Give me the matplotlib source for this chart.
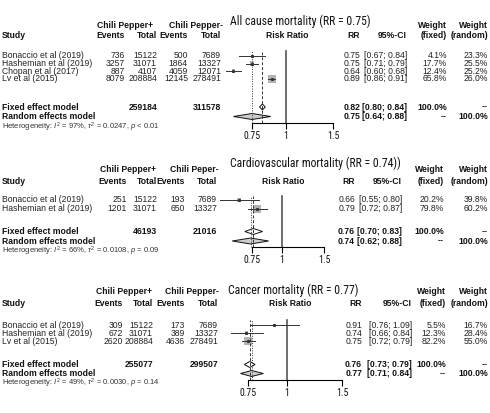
import numpy as np
import matplotlib
matplotlib.use("Agg")
import matplotlib.pyplot as plt
from matplotlib.patches import Polygon, Rectangle
from matplotlib import font_manager

# --- Adatok: összes halálozás ---
studies1 = ["Bonaccio et al (2019)", "Hashemian et al (2019)", "Chopan et al (2017)", "Lv et al (2015)"]
ev_pos1 = [736, 3257, 887, 8079]
tot_pos1 = [15122, 31071, 4107, 208884]
ev_neg1 = [500, 1864, 4059, 12145]
tot_neg1 = [7689, 13327, 12071, 278491]
rr1 = [0.75, 0.75, 0.64, 0.89]
lo1 = [0.67, 0.71, 0.60, 0.86]
hi1 = [0.84, 0.79, 0.68, 0.91]
wf1 = [4.1, 17.7, 12.4, 65.8]
wr1 = [23.3, 25.5, 25.2, 26.0]
fixed1 = [0.82, 0.80, 0.84]
random1 = [0.75, 0.64, 0.88]
sum_tot1 = [259184, 311578]
het1 = ["97%", "0.0247", "< 0.01"]

# --- Adatok: kardiovaszkuláris halálozás ---
studies2 = ["Bonaccio et al (2019)", "Hashemian et al (2019)"]
ev_pos2 = [251, 1201]
tot_pos2 = [15122, 31071]
ev_neg2 = [193, 650]
tot_neg2 = [7689, 13327]
rr2 = [0.66, 0.79]
lo2 = [0.55, 0.72]
hi2 = [0.80, 0.87]
wf2 = [20.2, 79.8]
wr2 = [39.8, 60.2]
fixed2 = [0.76, 0.70, 0.83]
random2 = [0.74, 0.62, 0.88]
sum_tot2 = [46193, 21016]
het2 = ["66%", "0.0108", "= 0.09"]

# --- Adatok: daganatos halálozás ---
studies3 = ["Bonaccio et al (2019)", "Hashemian et al (2019)", "Lv et al (2015)"]
ev_pos3 = [309, 672, 2620]
tot_pos3 = [15122, 31071, 208884]
ev_neg3 = [173, 389, 4636]
tot_neg3 = [7689, 13327, 278491]
rr3 = [0.91, 0.74, 0.75]
lo3 = [0.76, 0.66, 0.72]
hi3 = [1.09, 0.84, 0.79]
wf3 = [5.5, 12.3, 82.2]
wr3 = [16.7, 28.4, 55.0]
fixed3 = [0.76, 0.73, 0.79]
random3 = [0.77, 0.71, 0.84]
sum_tot3 = [255077, 299507]
het3 = ["49%", "0.0030", "= 0.14"]

titles = ["All cause mortality (RR = 0.75)",
          "Cardiovascular mortality (RR = 0.74))",
          "Cancer mortality (RR = 0.77)"]
group_heads = [["Chili Pepper+", "Chili Pepper-"],
               ["Chili Pepper+", "Chili Peper-"],
               ["Chili Pepper+", "Chili Pepper-"]]
ticks = [0.75, 1, 1.5]
tick_labels = ["0.75", "1", "1.5"]

panels = [
    dict(studies=studies1, ev_pos=ev_pos1, tot_pos=tot_pos1, ev_neg=ev_neg1, tot_neg=tot_neg1,
         rr=rr1, lo=lo1, hi=hi1, wf=wf1, wr=wr1, fixed=fixed1, random=random1,
         sums=sum_tot1, het=het1),
    dict(studies=studies2, ev_pos=ev_pos2, tot_pos=tot_pos2, ev_neg=ev_neg2, tot_neg=tot_neg2,
         rr=rr2, lo=lo2, hi=hi2, wf=wf2, wr=wr2, fixed=fixed2, random=random2,
         sums=sum_tot2, het=het2),
    dict(studies=studies3, ev_pos=ev_pos3, tot_pos=tot_pos3, ev_neg=ev_neg3, tot_neg=tot_neg3,
         rr=rr3, lo=lo3, hi=hi3, wf=wf3, wr=wr3, fixed=fixed3, random=random3,
         sums=sum_tot3, het=het3),
]

# --- Elrendezés (pixelben) ---
layout = [
    dict(title=(230, 21), h1=25, h2=36, y0=56, dy=7.5, yf=107, yr=116.5, yh=127,
         fx=(252, 333), ftop=51, fax=123, heads=(125, 196),
         cols=(125, 157, 188, 221), rcols=(360, 407, 447, 488)),
    dict(title=(230, 163), h1=169, h2=181, y0=200, dy=9, yf=231.5, yr=241, yh=251.5,
         fx=(252, 324), ftop=196, fax=247, heads=(128, 194),
         cols=(127, 157, 185, 217), rcols=(355, 402, 444, 488)),
    dict(title=(228, 290), h1=291, h2=304, y0=325, dy=8, yf=364.5, yr=373.5, yh=383.5,
         fx=(248, 342), ftop=320, fax=380, heads=(124, 192),
         cols=(123, 153, 185, 218), rcols=(362, 412, 446, 488)),
]

W, H = 490, 413
fig = plt.figure(figsize=(W / 100, H / 100), dpi=100)
fig.patch.set_facecolor("white")

plt.rcParams["mathtext.fontset"] = "custom"
plt.rcParams["mathtext.rm"] = "Liberation Sans"
plt.rcParams["mathtext.it"] = "Liberation Sans:italic"

body = dict(family="Liberation Sans", fontsize=6.2, color="#222222")
bold = dict(body, fontweight="bold", color="#111111")

# keskeny betűtípus a címekhez, ha van
names = {f.name for f in font_manager.fontManager.ttflist}
narrow = dict(family="DejaVu Sans", fontstretch="condensed", fontsize=8)
for cand in ["Liberation Sans Narrow", "Roboto Condensed", "Open Sans Condensed", "DejaVu Sans Condensed"]:
    if cand in names:
        narrow = dict(family=cand, fontsize=8.5)
        break


def txt(x, y, s, ha="left", **kw):
    fig.text(x / W, 1 - y / H, s, ha=ha, va="center", **kw)


for p, L, title, gh in zip(panels, layout, titles, group_heads):
    c = L["cols"]
    rc = L["rcols"]
    # fejlécek
    txt(L["title"][0], L["title"][1], title, color="#111111", **narrow)
    txt(L["heads"][0], L["h1"], gh[0], ha="center", **bold)
    txt(L["heads"][1], L["h1"], gh[1], ha="center", **bold)
    txt(2, L["h2"], "Study", **bold)
    for x, s in zip(c, ["Events", "Total", "Events", "Total"]):
        txt(x, L["h2"], s, ha="right", **bold)
    txt(sum(L["fx"]) / 2 - 5, L["h2"], "Risk Ratio", ha="center", **bold)
    txt(rc[0], L["h2"], "RR", ha="right", **bold)
    txt(rc[1], L["h2"], "95%-CI", ha="right", **bold)
    txt(rc[2], L["h1"], "Weight", ha="right", **bold)
    txt(rc[2], L["h2"], "(fixed)", ha="right", **bold)
    txt(rc[3], L["h1"], "Weight", ha="right", **bold)
    txt(rc[3], L["h2"], "(random)", ha="right", **bold)

    # tanulmány sorok
    n = len(p["studies"])
    ys = [L["y0"] + i * L["dy"] for i in range(n)]
    for i, y in enumerate(ys):
        txt(2, y, p["studies"][i], **body)
        for x, v in zip(c, [p["ev_pos"][i], p["tot_pos"][i], p["ev_neg"][i], p["tot_neg"][i]]):
            txt(x, y, str(v), ha="right", **body)
        txt(rc[0], y, f"{p['rr'][i]:.2f}", ha="right", **body)
        txt(rc[1], y, f"[{p['lo'][i]:.2f}; {p['hi'][i]:.2f}]", ha="right", **body)
        txt(rc[2], y, f"{p['wf'][i]:.1f}%", ha="right", **body)
        txt(rc[3], y, f"{p['wr'][i]:.1f}%", ha="right", **body)

    # összesítő sorok
    f, r = p["fixed"], p["random"]
    txt(2, L["yf"], "Fixed effect model", **bold)
    txt(c[1], L["yf"], str(p["sums"][0]), ha="right", **bold)
    txt(c[3], L["yf"], str(p["sums"][1]), ha="right", **bold)
    txt(rc[0], L["yf"], f"{f[0]:.2f}", ha="right", **bold)
    txt(rc[1], L["yf"], f"[{f[1]:.2f}; {f[2]:.2f}]", ha="right", **bold)
    txt(rc[2], L["yf"], "100.0%", ha="right", **bold)
    txt(rc[3], L["yf"], "--", ha="right", **bold)
    txt(2, L["yr"], "Random effects model", **bold)
    txt(rc[0], L["yr"], f"{r[0]:.2f}", ha="right", **bold)
    txt(rc[1], L["yr"], f"[{r[1]:.2f}; {r[2]:.2f}]", ha="right", **bold)
    txt(rc[2], L["yr"], "--", ha="right", **bold)
    txt(rc[3], L["yr"], "100.0%", ha="right", **bold)
    i2, tau, pv = p["het"]
    txt(2, L["yh"], f"Heterogeneity: $I^2$ = {i2}, $\\tau^2$ = {tau}, $p$ {pv}",
        family="Liberation Sans", fontsize=5.5, color="#333333")

    # forest plot tengely
    x0, x1 = L["fx"]
    ax = fig.add_axes([x0 / W, 1 - L["fax"] / H, (x1 - x0) / W, (L["fax"] - L["ftop"]) / H])
    ax.set_xscale("log")
    ax.set_xlim(0.75, 1.5)
    ax.set_ylim(L["fax"], L["ftop"])
    ax.patch.set_visible(False)
    for s in ["top", "left", "right"]:
        ax.spines[s].set_visible(False)
    ax.spines["bottom"].set_linewidth(0.8)
    ax.set_yticks([])
    ax.set_xticks(ticks)
    ax.set_xticklabels(tick_labels, color="#111111", **dict(narrow, fontsize=7))
    ax.minorticks_off()
    ax.tick_params(axis="x", length=4, width=0.8, pad=2)

    ax.axvline(1, color="#555555", lw=1.2, clip_on=False)
    ax.axvline(f[0], color="#333333", lw=0.7, ls=(0, (3, 2)), clip_on=False)
    ax.axvline(r[0], color="#333333", lw=0.7, ls=(0, (1, 1.5)), clip_on=False)

    # tanulmányok: CI vonal + súllyal arányos négyzet
    wmax = max(p["wf"])
    for i, y in enumerate(ys):
        ax.plot([p["lo"][i], p["hi"][i]], [y, y], color="#333333", lw=0.7, clip_on=False)
        side = 8 * np.sqrt(p["wf"][i] / wmax)  # pixel
        xr = p["rr"][i]
        fac = np.exp(side / 2 / ((x1 - x0) / np.log(2)))
        ax.add_patch(Rectangle((xr / fac, y - side / 2), xr * fac - xr / fac, side,
                               facecolor="#b3b3b3", edgecolor="none", clip_on=False))
        ax.plot([xr], [y], marker="s", ms=1.2, color="#333333", clip_on=False)

    # gyémántok
    for est, yy, fc in [(f, L["yf"], "white"), (r, L["yr"], "#cccccc")]:
        ax.add_patch(Polygon([(est[1], yy), (est[0], yy - 3), (est[2], yy), (est[0], yy + 3)],
                             closed=True, facecolor=fc, edgecolor="#111111", lw=0.7,
                             clip_on=False))

fig.savefig("out.png", dpi=100)
